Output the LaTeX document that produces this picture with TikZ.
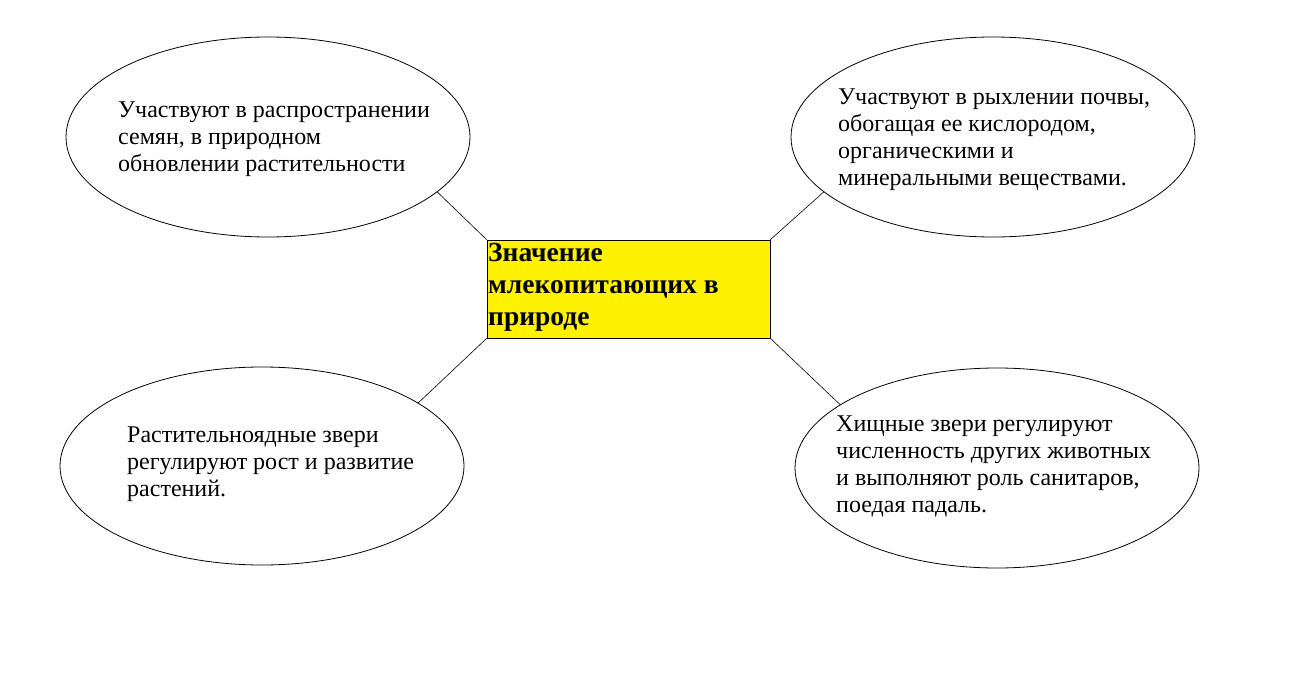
\documentclass[tikz,border=0pt]{standalone}
\usepackage{fontspec}
\setmainfont{Liberation Serif}
\usetikzlibrary{shapes.geometric}
\begin{document}
\begin{tikzpicture}[x=1pt,y=1pt,
  ell/.style={ellipse,draw,line width=0.8pt,minimum width=404pt,minimum height=200pt,inner sep=0},
  txt/.style={anchor=north west,inner sep=0,align=left,font=\fontsize{24}{27}\selectfont},
  conn/.style={line width=0.6pt}]
\useasboundingbox (0,0) rectangle (1297,-676);
\fill[white] (0,0) rectangle (1297,-676);
\node[ell] (tl) at (268,-137) {};
\node[ell] (tr) at (993,-137) {};
\node[ell,minimum height=198pt] (bl) at (262,-466) {};
\node[ell] (br) at (997,-468) {};
\node[draw,fill=yellow,line width=0.6pt,minimum width=283pt,minimum height=98pt,inner sep=0] (c) at (628.5,-289) {};
\node[anchor=north west,inner sep=0,align=left,font=\fontsize{27.5}{32}\selectfont\bfseries] (ct) at (488,-243) {Значение\\млекопитающих в\\природе};
\node[txt] (t1) at (118,-102) {Участвуют в распространении\\семян, в природном\\обновлении растительности};
\node[txt] (t2) at (838,-89) {Участвуют в рыхлении почвы,\\обогащая ее кислородом,\\органическими и\\минеральными веществами.};
\node[txt] (t3) at (127,-427) {Растительноядные звери\\регулируют рост и развитие\\растений.};
\node[txt] (t4) at (836,-416) {Хищные звери регулируют\\численность других животных\\и выполняют роль санитаров,\\поедая падаль.};
\draw[conn] (tl.-18) -- (c.north west);
\draw[conn] (tr.198.9) -- (c.north east);
\draw[conn] (bl.22.4) -- (c.south west);
\draw[conn] (br.158.4) -- (c.south east);
\end{tikzpicture}
\end{document}
